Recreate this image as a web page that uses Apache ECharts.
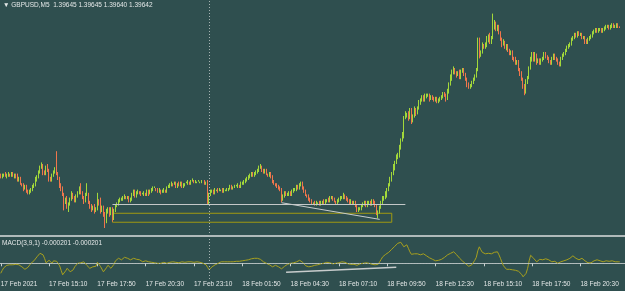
<!DOCTYPE html>
<html>
<head>
<meta charset="utf-8">
<script src="https://cdn.jsdelivr.net/npm/echarts@6.0.0/dist/echarts.min.js"></script>
<style>
  html, body { margin: 0; padding: 0; background: #2f4f4f; }
  #chart { width: 625px; height: 291px; }
</style>
</head>
<body>
<div id="chart"></div>
<script>
// GBPUSD M5, 17-18 Feb 2021. prices kept in pips above 1.3800
const barCount = 414;
const tickLabels = ['17 Feb 2021', '17 Feb 15:10', '17 Feb 17:50', '17 Feb 20:30', '17 Feb 23:10',
  '18 Feb 01:50', '18 Feb 04:30', '18 Feb 07:10', '18 Feb 09:50', '18 Feb 12:30',
  '18 Feb 15:10', '18 Feb 17:50', '18 Feb 20:30'];

const firstOpen = 72;
const closes = [
  71,72,73,71,72,73,72,73,71,72, 71,69,70,67,66,64,65,62,61,62,
  63,65,66,69,71,74,77,78,74,73, 77,75,70,69,72,74,75,73,70,66,
  63,60,55,57,53,54,57,60,58,56, 59,61,63,61,58,56,60,60,55,53,
  51,52,50,51,56,54,50,52,48,43, 49,51,48,51,45,50,53,54,56,57,
  57,58,59,58,58,56,57,60,62,59, 61,62,61,60,60,61,60,62,60,62,
  63,64,64,63,62,63,61,62,63,62, 64,65,66,67,66,67,65,67,66,67,
  65,66,67,67,68,67,68,69,68,68, 68,68,68,68,68,67,68,55,60,62,
  62,61,63,63,62,63,63,62,63,63, 63,64,65,64,65,65,65,66,65,67,
  67,68,69,70,71,72,73,72,73,74, 75,77,77,75,74,75,73,72,73,71,
  68,67,66,65,64,63,57,59,61,60, 60,61,60,62,63,63,65,64,66,67,
  64,62,60,59,57,56,55,55,54,55, 55,54,55,56,55,56,57,56,58,58,
  57,56,55,56,57,58,58,59,58,57, 56,55,56,55,55,53,50,51,51,53,
  54,55,53,55,55,54,56,55,53,48, 49,52,55,57,58,60,63,66,69,73,
  77,80,83,85,89,94,97,108,110,110, 108,112,106,109,113,111,114,117,119,121,
  119,121,122,122,120,121,120,119,120,118, 119,120,121,123,122,120,124,129,133,136,
  138,136,135,136,133,137,138,135,132,129, 127,128,130,132,134,138,156,147,149,153,
  152,153,157,159,155,158,165,167,163,165, 161,157,154,155,152,153,150,148,149,145,
  144,142,143,138,136,132,128,124,130,133, 139,144,148,144,147,143,144,142,144,145,
  148,146,145,143,142,145,147,145,144,142, 141,145,147,148,150,152,153,154,157,158,
  160,159,161,160,160,158,158,156,155,157, 158,159,161,162,163,162,163,163,162,163,
  164,165,165,164,165,166,165,165,166,165,164
];
const upWicks = [
  1,1,0,1,1,1,0,1,1,1, 1,2,1,1,0,1,1,1,1,1, 1,1,1,2,1,1,1,2,1,1, 1,2,1,1,1,1,2,12,1,1,
  1,2,1,1,2,1,1,2,1,1, 1,1,2,4,1,1,1,7,1,1, 1,1,2,1,5,1,4,1,1,1, 2,1,1,1,1,1,1,1,1,1,
  1,1,1,0,1,1,1,1,1,1, 1,1,0,1,1,1,0,1,1,1, 1,1,1,0,1,1,0,1,1,0, 1,1,1,1,0,1,1,0,1,1,
  1,1,0,1,1,0,1,1,0,1, 0,1,0,1,0,1,0,1,1,1, 1,1,1,0,1,1,0,1,1,0, 1,0,1,1,0,1,1,1,0,1,
  1,1,1,1,1,1,1,1,1,1, 1,1,2,1,1,1,1,0,1,1, 1,1,0,1,1,1,1,1,1,1, 1,1,1,1,1,1,1,1,1,1,
  1,1,1,0,1,1,1,0,1,1, 0,1,1,0,1,1,0,1,1,1, 1,1,0,1,1,1,1,2,1,1, 1,1,1,0,1,1,1,1,1,1,
  1,1,1,1,1,1,1,1,1,1, 1,1,1,2,1,2,1,1,2,1, 2,1,2,1,2,1,2,1,2,1, 2,2,2,1,2,1,1,2,1,1,
  1,2,1,1,1,1,1,1,1,1, 1,1,1,1,1,1,2,1,2,2, 2,1,1,1,2,1,1,1,1,1, 1,1,1,1,1,1,2,2,1,2,
  1,2,2,1,2,1,8,2,1,1, 1,1,1,2,1,1,1,1,1,1, 1,2,1,1,1,1,1,1,2,1, 1,2,1,1,2,1,1,1,1,1,
  1,1,1,1,1,1,1,1,1,1, 1,1,1,1,1,1,1,1,1,1, 1,1,1,1,1,1,1,1,1,1, 1,1,1,1,1,1,1,1,1,1,
  1,1,1,1,1,1,1,1,1,1,0
];
const downWicks = [
  1,1,1,0,1,1,1,1,0,1, 1,1,1,1,1,2,1,1,1,1, 1,1,1,1,1,1,1,1,2,1, 1,1,2,1,1,1,1,1,1,2,
  1,1,5,1,2,4,1,1,1,1, 1,1,1,1,1,2,1,1,1,2, 2,1,2,1,1,1,2,1,2,4, 1,1,2,1,2,1,1,1,1,1,
  1,1,1,1,1,1,1,1,1,1, 1,1,1,1,0,1,1,1,1,0, 1,1,0,1,1,1,1,0,1,1, 1,0,1,1,1,0,1,1,1,1,
  1,1,1,0,1,1,1,0,1,1, 1,0,1,1,0,1,1,1,1,1, 1,1,1,1,1,0,1,1,1,1, 1,1,1,1,1,1,0,1,1,1,
  1,1,1,1,1,1,1,1,1,1, 1,1,1,1,1,1,1,1,1,1, 1,1,1,1,1,1,2,1,1,1, 1,1,1,1,1,1,1,1,1,1,
  1,1,1,1,1,1,1,1,1,1, 1,1,1,1,1,1,1,1,1,1, 1,1,1,1,1,1,1,1,1,1, 1,1,1,1,1,1,1,1,1,1,
  1,1,1,1,1,1,1,1,1,1, 3,1,1,1,1,1,2,1,1,1, 1,2,1,1,2,1,1,2,1,2, 2,1,2,1,1,2,1,1,1,1,
  1,1,1,1,2,1,1,1,1,1, 1,1,1,1,1,2,1,1,1,2, 1,1,2,1,1,1,1,1,1,2, 1,1,1,1,1,1,1,2,1,1,
  1,1,1,2,1,1,1,2,1,1, 1,1,2,1,1,2,1,1,1,1, 1,1,1,1,2,1,2,2,1,1, 1,1,1,1,1,2,1,1,1,1,
  1,1,1,1,1,1,1,1,1,1, 1,1,1,1,1,1,1,1,1,1, 1,1,1,1,1,1,1,2,1,1, 1,1,1,1,1,1,1,1,1,1,
  1,1,1,1,1,1,1,1,1,1,0
];
// MACD(3,9,1) in units of 0.00001
const macd = [
  -20,-14,-9,-6,-4,-3,-3,-2,-3,-3, -2,-2,-3,-4,-7,-10,-12,-11,-8,-4,
  0,2,5,9,13,17,20,20,17,10, 1,4,6,3,0,5,6,4,0,-5,
  -14,-23,-20,-15,-10,-12,-17,-20,-13,-7, -3,0,1,1,0,3,1,-4,-7,-10,
  -8,-7,-9,-6,2,0,-6,-9,-17,-20, -9,-4,-6,-10,-8,-2,5,8,10,9,
  7,9,12,13,10,9,7,8,10,9, 8,7,7,5,3,4,5,5,3,3,
  2,1,1,0,0,0,0,1,2,1, 0,1,2,3,3,3,2,2,1,2,
  3,3,2,3,3,2,3,2,2,3, 3,3,2,1,0,-1,-3,-8,-13,-10,
  -7,-5,-3,-1,0,1,3,3,3,3, 3,3,3,4,3,4,4,5,4,5,
  5,6,6,7,7,8,9,10,10,10, 10,9,8,6,3,2,0,-1,-3,-5,
  -7,-6,-4,-4,-7,-10,-11,-8,-6,-3, -2,0,0,0,1,2,3,4,6,7,
  2,-2,-5,-7,-7,-7,-6,-5,-4,-3, -3,-2,-1,0,0,1,2,2,1,0,
  -1,-1,0,0,1,2,3,3,2,1, -1,-2,-2,-1,-2,-3,-4,-3,-1,0,
  0,1,1,1,0,-1,-2,-3,-3,-4, -2,3,8,13,16,18,20,22,25,28,
  32,34,37,40,43,42,38,33,35,37, 30,23,18,17,19,20,19,18,17,18,
  19,17,15,13,11,10,8,6,5,5, 6,7,8,10,12,14,17,18,20,22,
  23,21,17,14,10,7,4,2,-1,-3, -6,-7,-3,0,6,12,25,33,27,22,
  20,19,20,20,18,19,21,22,21,23, 17,10,2,-5,-9,-12,-12,-12,-12,-13,
  -13,-14,-15,-16,-17,-22,-27,-30,-20,-10, 5,16,15,10,6,3,5,8,7,7,
  8,9,10,7,4,3,5,4,2,0, 2,3,5,5,6,7,8,10,12,15,
  13,10,8,7,8,10,8,5,3,1, 0,1,3,5,6,7,6,5,4,3,
  4,5,5,4,5,5,4,3,3,3,3
];

// drawn objects (bar index, price)
const dayBreak = 138;
const levelPrice = 1.39551;
const supportLine = { from: 74, to: 268, price: 1.38538 };
const box = { from: 74, to: 259, top: 1.38482, bottom: 1.38426 };
const priceTrend = { from: 186, p1: 1.38548, to: 251, p2: 1.38444 };
const macdTrend = { from: 189, v1: -0.00018, to: 262, v2: -0.00008 };

const base = 1.38, pip = 0.0001, macdUnit = 0.00001;

const categories = [];
for (let i = 0; i < barCount; i++) {
  const t = 12 * 60 + 30 + i * 5;
  const day = 17 + Math.floor(t / 1440);
  const m = t % 1440;
  categories.push('2021.02.' + day + ' ' + String(Math.floor(m / 60)).padStart(2, '0') + ':' + String(m % 60).padStart(2, '0'));
}

const candles = closes.map((c, i) => {
  const o = i === 0 ? firstOpen : closes[i - 1];
  const hi = Math.max(o, c) + upWicks[i];
  const lo = Math.min(o, c) - downWicks[i];
  return [o, c, lo, hi].map(v => +(base + v * pip).toFixed(5));
});
const macdData = macd.map(v => +(v * macdUnit).toFixed(6));

const font = "'Liberation Sans Narrow', 'Liberation Sans', Arial, sans-serif";
const textColor = '#e4e8e8';
const bull = '#a2d83a';
const bear = '#f0764c';

const chart = echarts.init(document.getElementById('chart'), null, { renderer: 'canvas' });

const option = {
  animation: false,
  backgroundColor: '#2f4f4f',
  title: [
    {
      text: '\u25BC GBPUSD,M5  1.39645 1.39645 1.39640 1.39642',
      left: 3, top: 2, padding: 0,
      textStyle: { color: textColor, fontSize: 6.5, fontWeight: 'normal', fontFamily: font }
    },
    {
      text: 'MACD(3,9,1) -0.000201 -0.000201',
      left: 2, top: 240, padding: 0,
      textStyle: { color: textColor, fontSize: 6.5, fontWeight: 'normal', fontFamily: font }
    }
  ],
  grid: [
    { left: 0, right: 0, top: 0, height: 236, outerBoundsMode: 'none' },
    { left: 0, right: 0, top: 239, height: 40, outerBoundsMode: 'none' }
  ],
  xAxis: [
    {
      type: 'category', gridIndex: 0, data: categories, boundaryGap: true,
      axisLine: { show: true, lineStyle: { color: '#b0baba', width: 2 } },
      axisTick: { show: false }, axisLabel: { show: false }, splitLine: { show: false }
    },
    {
      type: 'category', gridIndex: 1, data: categories, boundaryGap: true,
      axisLine: { show: true, lineStyle: { color: '#b0baba', width: 1 } },
      axisTick: { show: true, interval: 31, alignWithLabel: true, length: 3, lineStyle: { color: '#c8d0d0' } },
      axisLabel: {
        interval: 31, align: 'left', margin: 2, color: textColor,
        fontSize: 6.5, fontFamily: font,
        formatter: (v, i) => tickLabels[i / 32] || ''
      },
      splitLine: { show: false }
    }
  ],
  yAxis: [
    { type: 'value', gridIndex: 0, min: 1.3834, max: 1.39815, show: false, splitLine: { show: false } },
    { type: 'value', gridIndex: 1, min: -0.000314, max: 0.000486, show: false, splitLine: { show: false } }
  ],
  series: [
    {
      type: 'candlestick',
      xAxisIndex: 0, yAxisIndex: 0,
      data: candles,
      barWidth: 1,
      itemStyle: {
        color: bull, color0: bear,
        borderColor: bull, borderColor0: bear, borderColorDoji: bull,
        borderWidth: 1
      },
      markLine: {
        silent: true, symbol: ['none', 'none'], label: { show: false },
        data: [
          { yAxis: levelPrice, lineStyle: { color: '#8ea4a4', width: 1, type: 'solid' } },
          { xAxis: categories[dayBreak], lineStyle: { color: '#a8b4b4', width: 1, type: [1, 2] } },
          [
            { coord: [categories[supportLine.from], supportLine.price], lineStyle: { color: '#c4c8c8', width: 1, type: 'solid' } },
            { coord: [categories[supportLine.to], supportLine.price] }
          ],
          [
            { coord: [categories[priceTrend.from], priceTrend.p1], lineStyle: { color: '#c8cccc', width: 1, type: 'solid' } },
            { coord: [categories[priceTrend.to], priceTrend.p2] }
          ]
        ]
      },
      markArea: {
        silent: true,
        itemStyle: { color: 'rgba(0,0,0,0)', borderColor: '#a09a12', borderWidth: 1 },
        data: [[
          { coord: [categories[box.from], box.top] },
          { coord: [categories[box.to], box.bottom] }
        ]]
      }
    },
    {
      type: 'line',
      xAxisIndex: 1, yAxisIndex: 1,
      data: macdData,
      symbol: 'none',
      lineStyle: { color: '#a8a01e', width: 1 },
      markLine: {
        silent: true, symbol: ['none', 'none'], label: { show: false },
        data: [
          { yAxis: 0, lineStyle: { color: '#b4bebe', width: 1, type: [1, 2] } },
          { xAxis: categories[dayBreak], lineStyle: { color: '#a8b4b4', width: 1, type: [1, 2] } },
          [
            { coord: [categories[macdTrend.from], macdTrend.v1], lineStyle: { color: '#c8cccc', width: 1.5, type: 'solid' } },
            { coord: [categories[macdTrend.to], macdTrend.v2] }
          ]
        ]
      }
    }
  ]
};

chart.setOption(option);
window.addEventListener('resize', () => chart.resize());
</script>
</body>
</html>
